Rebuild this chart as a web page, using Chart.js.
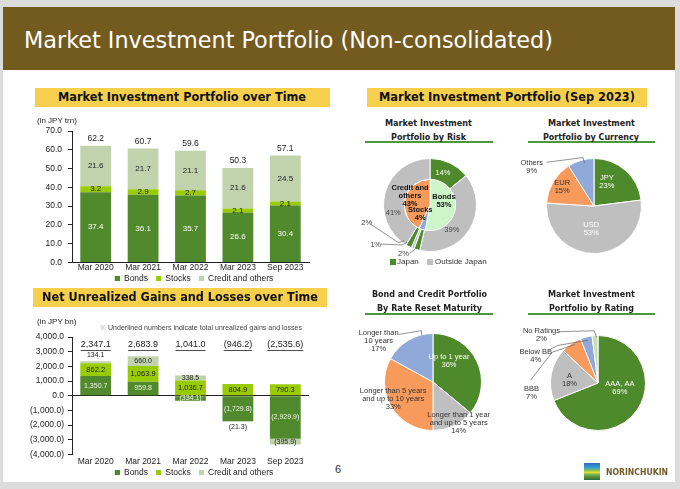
<!DOCTYPE html>
<html><head><meta charset="utf-8">
<script src="https://cdn.jsdelivr.net/npm/chart.js@4.4.1/dist/chart.umd.min.js"></script>
<style>
html,body{margin:0;padding:0;}
body{width:680px;height:489px;overflow:hidden;background:#dcdcdc;position:relative;}
.abs{position:absolute;}
.t{position:absolute;white-space:nowrap;}
</style></head><body>
<div class="abs" style="left:3px;top:7px;width:672px;height:475px;background:#fff"></div>
<div class="abs" style="left:3px;top:7px;width:672px;height:63px;background:#735a1f"></div>
<div class="abs" style="left:35px;top:88px;width:295px;height:19px;background:#f6d04d"></div>
<div class="abs" style="left:33px;top:288px;width:294px;height:19px;background:#f6d04d"></div>
<div class="abs" style="left:367px;top:88px;width:280px;height:19px;background:#f6d04d"></div>
<div class="abs" style="left:365px;top:141px;width:128px;height:2px;background:#4a9a3a"></div>
<div class="abs" style="left:528px;top:141px;width:127px;height:2px;background:#4a9a3a"></div>
<div class="abs" style="left:365px;top:313px;width:128px;height:2px;background:#4a9a3a"></div>
<div class="abs" style="left:528px;top:313px;width:127px;height:2px;background:#4a9a3a"></div>
<div class="abs" style="left:390px;top:259px;width:6px;height:6px;background:#4e8a2b"></div>
<div class="abs" style="left:427px;top:259px;width:6px;height:6px;background:#bfbfbf"></div>
<div class="abs" style="left:584px;top:463px;width:16px;height:17px;background:linear-gradient(#2a6db5 0%,#38a0d8 28%,#8cc63f 45%,#e8e040 55%,#6aa84f 70%,#2e6b2a 100%)"></div>
<canvas id="c1" class="abs" width="300" height="181" style="left:20px;top:112px"></canvas>
<canvas id="c2" class="abs" width="300" height="172" style="left:20px;top:315px"></canvas>
<canvas id="p1" class="abs" width="150" height="110" style="left:355px;top:150px"></canvas>
<canvas id="p2" class="abs" width="160" height="112" style="left:510px;top:150px"></canvas>
<canvas id="p3" class="abs" width="176" height="125" style="left:345px;top:322px"></canvas>
<canvas id="p4" class="abs" width="160" height="120" style="left:515px;top:322px"></canvas>
<script>
// ---------- data ----------
const periods = ['Mar 2020','Mar 2021','Mar 2022','Mar 2023','Sep 2023'];
const seriesNames = ['Bonds','Stocks','Credit and others'];
const portfolioBonds  = [37.4, 36.1, 35.7, 26.6, 30.4];
const portfolioStocks = [3.2, 2.9, 2.7, 2.1, 2.1];
const portfolioCredit = [21.6, 21.7, 21.1, 21.6, 24.5];
const portfolioTotals = [62.2, 60.7, 59.6, 50.3, 57.1];

const gainsBonds  = [1350.7, 959.8, -334.1, -1729.8, -2929.9];
const gainsStocks = [862.2, 1063.9, 1036.7, 804.9, 790.3];
const gainsCredit = [134.1, 660.0, 338.5, -21.3, -395.9];
const gainsTotals = [2347.1, 2683.9, 1041.0, -946.2, -2535.6];

const riskNames   = [['Bonds'], ['Stocks'], ['Credit and','others']];
const riskShares  = [53, 4, 43];
const riskRegions = ['Japan','Outside Japan','Japan','Outside Japan','Japan','Outside Japan'];
const riskRegionShares = [14, 39, 2, 1, 2, 41];

const currencyNames  = ['JPY','USD','EUR','Others'];
const currencyShares = [23, 53, 15, 9];

const maturityNames  = [['Up to 1 year'], ['Longer than 1 year','and up to 5 years'], ['Longer than 5 years','and up to 10 years'], ['Longer than','10 years']];
const maturityShares = [36, 14, 33, 17];

const ratingNames  = [['AAA, AA'], ['A'], ['BBB'], ['Below BB'], ['No Ratings']];
const ratingShares = [69, 18, 7, 4, 2];

// ---------- style ----------
const F = "'Liberation Sans', Arial, sans-serif";
const V = "'DejaVu Sans', Verdana, sans-serif";
const GREEN = '#51892d', LIME = '#99cc00', PALE = '#c0d3ad';
const PGREEN = '#4e8a2b', PGRAY = '#bfbfbf', PORANGE = '#f89a5b', PBLUE = '#8faad9', PMINT = '#ccf5c8', PLIGHT = '#c5e0b4';
Chart.defaults.font.family = F;
Chart.defaults.color = '#222';

function place(text, cx, cy, o){
  const d=document.createElement('div'); d.className='t'; d.textContent=text;
  d.style.font=(o.weight||'normal')+' '+o.size+'px '+(o.family||F);
  d.style.lineHeight=o.size+'px'; d.style.color=o.color||'#222';
  document.body.appendChild(d);
  const aw=d.getBoundingClientRect().width;
  const s=o.w? o.w/aw:1;
  d.style.transformOrigin='0 50%'; d.style.transform='scaleX('+s+')';
  const left=o.align==='left'?cx:cx-aw*s/2;
  d.style.left=left+'px'; d.style.top=(cy-o.size/2)+'px';
}
const VC = "'DejaVu Sans Condensed','DejaVu Sans',sans-serif";
place('Market Investment Portfolio (Non-consolidated)', 24, 40, {size:23, family:VC, color:'#fff', w:529, align:'left'});
place('Market Investment Portfolio over Time', 182, 97.5, {size:12.5, weight:'bold', family:V, color:'#111', w:248});
place('Net Unrealized Gains and Losses over Time', 180, 297.5, {size:12.5, weight:'bold', family:V, color:'#111', w:276});
place('Market Investment Portfolio (Sep 2023)', 507, 97.5, {size:12.5, weight:'bold', family:V, color:'#111', w:256});
const sub = {size:9.5, weight:'bold', family:V, color:'#222'};
place('Market Investment', 428.5, 123, {...sub, w:87});
place('Portfolio by Risk', 428.5, 137, {...sub, w:75});
place('Market Investment', 591.5, 123, {...sub, w:87});
place('Portfolio by Currency', 591, 137, {...sub, w:96});
place('Bond and Credit Portfolio', 429.5, 294, {...sub, w:115});
place('By Rate Reset Maturity', 429.5, 308, {...sub, w:105});
place('Market Investment', 591.5, 294, {...sub, w:87});
place('Portfolio by Rating', 591.5, 308, {...sub, w:85});
place('(in JPY trn)', 37, 121, {size:8, align:'left', color:'#222'});
place('(in JPY bn)', 37, 322, {size:8, align:'left', color:'#222'});
place('※', 100, 327, {size:7, align:'left', color:'#aaa'});
place('Underlined numbers indicate total unrealized gains and losses', 108, 327, {size:7, align:'left', color:'#444', w:194});
place('Japan', 397, 262, {size:8, align:'left', color:'#333'});
place('Outside Japan', 435, 262, {size:8, align:'left', color:'#333'});
place('6', 338, 469, {size:11, color:'#333'});
place('NORINCHUKIN', 606, 472, {size:9, weight:'bold', family:V, color:'#6e5a26', w:62, align:'left'});

function fmt1(v){
  const a=Math.abs(v).toFixed(1); const p=a.split('.');
  const t=p[0].replace(/\B(?=(\d{3})+(?!\d))/g, ',')+'.'+p[1];
  return v<0?'('+t+')':t;
}

// legend swatch: small square on the right of a wider transparent box (gives spacing between items)
function swatch(color){
  const c=document.createElement('canvas'); c.width=12; c.height=5;
  const x=c.getContext('2d'); x.fillStyle=color; x.fillRect(7,0,5,5);
  return c;
}

// ---------- plugins ----------
const barLabels = {
  id:'barLabels',
  afterDatasetsDraw(chart,_a,o){
    const ctx=chart.ctx; ctx.save(); ctx.textAlign='center'; ctx.textBaseline='middle';
    chart.data.datasets.forEach((ds,di)=>{
      const meta=chart.getDatasetMeta(di);
      ctx.font=o.sizes[di]+'px '+F; ctx.fillStyle=o.colors[di];
      meta.data.forEach((bar,i)=>{
        const v=ds.data[i]; const y=bar.y, b=bar.base;
        let ty=(y+b)/2;
        if (Math.abs(b-y)<3) ty = v<0 ? Math.max(y,b)+6 : Math.min(y,b)-6;
        ctx.fillText(fmt1(v), bar.x, ty);
      });
    });
    const meta0=chart.getDatasetMeta(0);
    ctx.font=o.totalSize+'px '+F; ctx.fillStyle='#222';
    o.totals.forEach((t,i)=>{
      const x=meta0.data[i].x;
      let y;
      if (o.fixedTop) y=chart.chartArea.top+o.fixedTop;
      else y=chart.scales.y.getPixelForValue(t)-7;
      const s=fmt1(t); ctx.fillText(s,x,y);
      if (o.underline){
        const w=ctx.measureText(s).width;
        ctx.strokeStyle='#222'; ctx.lineWidth=0.8;
        ctx.beginPath(); ctx.moveTo(x-w/2,y+5.5); ctx.lineTo(x+w/2,y+5.5); ctx.stroke();
      }
    });
    ctx.restore();
  }
};

const pieLabels = {
  id:'pieLabels',
  afterDatasetsDraw(chart,_a,opts){
    const ctx=chart.ctx;
    const R=chart.getDatasetMeta(0).data[0].outerRadius;
    ctx.save();
    for (const it of opts.items){
      const arc=chart.getDatasetMeta(it.ds||0).data[it.i];
      const cx=arc.x, cy=arc.y;
      if (it.leader){
        ctx.beginPath(); ctx.strokeStyle='#666'; ctx.lineWidth=0.7;
        it.leader.forEach((p,k)=>{const X=cx+p[0]*R, Y=cy+p[1]*R; k?ctx.lineTo(X,Y):ctx.moveTo(X,Y);});
        ctx.stroke();
      }
      ctx.font=(it.bold?'bold ':'')+opts.size+'px '+F;
      ctx.fillStyle=it.color||'#333';
      ctx.textAlign='center'; ctx.textBaseline='middle';
      const lh=opts.lineHeight;
      const x0=cx+it.at[0]*R, y0=cy+it.at[1]*R-(it.lines.length-1)*lh/2;
      it.lines.forEach((l,k)=>ctx.fillText(l,x0,y0+k*lh));
    }
    ctx.restore();
  }
};

// ---------- bar charts ----------
function barChart(id, sets, yopt, padTop, labelOpt, xPad){
  return new Chart(document.getElementById(id), {
    type:'bar',
    data:{labels:periods, datasets:sets.map((d,i)=>({label:seriesNames[i], data:d, backgroundColor:[GREEN,LIME,PALE][i], borderWidth:0}))},
    options:{
      responsive:false, animation:false, devicePixelRatio:1,
      layout:{padding:{top:padTop,right:11,left:0,bottom:0}},
      datasets:{bar:{barPercentage:0.65, categoryPercentage:1}},
      scales:{
        x:{stacked:true, border:{display:yopt.xBorder, color:'#222'}, grid:{display:false, drawTicks:false},
           ticks:{font:{size:8.5}, color:'#222', padding:xPad, maxRotation:0, autoSkip:false},
           afterFit(s){s.height=yopt.xh;}},
        y:Object.assign({stacked:true, border:{display:true,color:'#222'},
           afterFit(s){s.width=52;}}, yopt.y)
      },
      plugins:{
        legend:{position:'bottom', fullSize:false,
          labels:{usePointStyle:true, pointStyleWidth:12, boxHeight:5, padding:1, font:{size:8.5}, color:'#222',
            generateLabels(chart){
              return Chart.defaults.plugins.legend.labels.generateLabels(chart).map(it=>({...it, pointStyle:swatch(it.fillStyle)}));
            }}},
        tooltip:{enabled:false},
        barLabels:labelOpt
      }
    },
    plugins:[barLabels]
  });
}
barChart('c1',[portfolioBonds,portfolioStocks,portfolioCredit],
  {xBorder:true, xh:11, y:{min:0,max:70, grid:{drawOnChartArea:false, tickLength:4, color:'#222'}, ticks:{font:{size:8.5}, color:'#222', padding:6, stepSize:10, callback:v=>fmt1(v)}}},
  19, {sizes:[8,8,8], colors:['#fff','#222','#222'], totals:portfolioTotals, totalSize:8.5}, 0);
barChart('c2',[gainsBonds,gainsStocks,gainsCredit],
  {xBorder:false, xh:13, y:{min:-4000,max:4000, grid:{drawOnChartArea:true, tickLength:4, tickColor:'#222', color:c=>(c.tick&&c.tick.value===0)?'#222':'rgba(0,0,0,0)'}, ticks:{font:{size:8.5}, color:'#222', padding:4, stepSize:1000, callback:v=>fmt1(v)}}},
  22, {sizes:[7,7.5,7], colors:['#eef5e6','#222','#222'], totals:gainsTotals, totalSize:9, fixedTop:8, underline:true}, 2);

// ---------- pies ----------
const pct = v => v+'%';
function pieChart(id, datasets, pad, items){
  return new Chart(document.getElementById(id), {
    type:'pie',
    data:{datasets},
    options:{responsive:false, animation:false, devicePixelRatio:1,
      layout:{padding:pad},
      plugins:{legend:{display:false}, tooltip:{enabled:false}, pieLabels:{items, size:7.5, lineHeight:8}}},
    plugins:[pieLabels]
  });
}
const arcStyle = {borderColor:'#fff', borderWidth:1, hoverOffset:0, offset:0};

// Risk
const riskOuterLayout = [
  {at:[0.28,-0.68], color:'#fff'},
  {at:[0.47,0.53], color:'#444'},
  {at:[-0.57,1.05], color:'#444', leader:[[-0.44,1.04],[-0.32,0.95]]},
  {at:[-1.17,0.85], color:'#444', leader:[[-1.06,0.84],[-0.6,0.86],[-0.49,0.8]]},
  {at:[-1.36,0.38], color:'#444', leader:[[-1.28,0.41],[-0.68,0.81],[-0.56,0.77]]},
  {at:[-0.79,0.17], color:'#444'}
];
const riskInnerLayout = [
  {at:[0.30,-0.08], color:'#111', bold:true},
  {at:[-0.21,0.20], color:'#111', bold:true},
  {at:[-0.43,-0.19], color:'#111', bold:true}
];
pieChart('p1', [
  {label:'Region', data:riskRegionShares, labels:riskRegions, backgroundColor:riskRegions.map(r=>r==='Japan'?PGREEN:PGRAY), weight:21, ...arcStyle},
  {label:'Asset', data:riskShares, backgroundColor:[PMINT,PBLUE,PORANGE], weight:26, ...arcStyle}
], {top:8,bottom:8,left:28,right:28},
  riskOuterLayout.map((l,i)=>({...l, ds:0, i, lines:[pct(riskRegionShares[i])]}))
  .concat(riskInnerLayout.map((l,i)=>({...l, ds:1, i, lines:[...riskNames[i], pct(riskShares[i])]}))));

// Currency
const currencyLayout = [
  {at:[0.27,-0.50], color:'#fff'},
  {at:[-0.06,0.49], color:'#fff'},
  {at:[-0.67,-0.41], color:'#333'},
  {at:[-1.31,-0.82], color:'#333', leader:[[-1.0,-0.92],[-0.23,-1.02],[-0.2,-0.9]]}
];
pieChart('p2', [{data:currencyShares, backgroundColor:[PGREEN,PGRAY,PORANGE,PBLUE], ...arcStyle}],
  {top:8,bottom:8,left:36,right:28},
  currencyLayout.map((l,i)=>({...l, i, lines:[currencyNames[i], pct(currencyShares[i])]})));

// Maturity
const maturityLayout = [
  {at:[0.33,-0.44], color:'#fff'},
  {at:[0.53,0.85], color:'#333'},
  {at:[-0.82,0.35], color:'#333'},
  {at:[-1.12,-0.84], color:'#333', leader:[[-0.71,-0.98],[-0.24,-1.06],[-0.23,-0.96]]}
];
pieChart('p3', [{data:maturityShares, backgroundColor:[PGREEN,PGRAY,PORANGE,PBLUE], ...arcStyle}],
  {top:11,bottom:16,left:39,right:39},
  maturityLayout.map((l,i)=>({...l, i, lines:[...maturityNames[i], pct(maturityShares[i])]})));

// Rating
const ratingLayout = [
  {at:[0.46,0.11], color:'#fff'},
  {at:[-0.60,-0.07], color:'#333'},
  {at:[-1.40,0.20], color:'#333', leader:[[-1.42,-0.06],[-0.96,-0.65],[-0.48,-0.81]]},
  {at:[-1.31,-0.56], color:'#333', leader:[[-1.04,-0.69],[-0.85,-0.79],[-0.21,-0.90]]},
  {at:[-1.19,-1.01], color:'#333', leader:[[-0.81,-1.08],[-0.08,-1.10],[-0.03,-0.96]]}
];
pieChart('p4', [{data:ratingShares, backgroundColor:[PGREEN,PGRAY,PORANGE,PBLUE,PLIGHT], ...arcStyle}],
  {top:13,bottom:11,left:35,right:29},
  ratingLayout.map((l,i)=>({...l, i, lines:[...ratingNames[i], pct(ratingShares[i])]})));
</script>
</body></html>
